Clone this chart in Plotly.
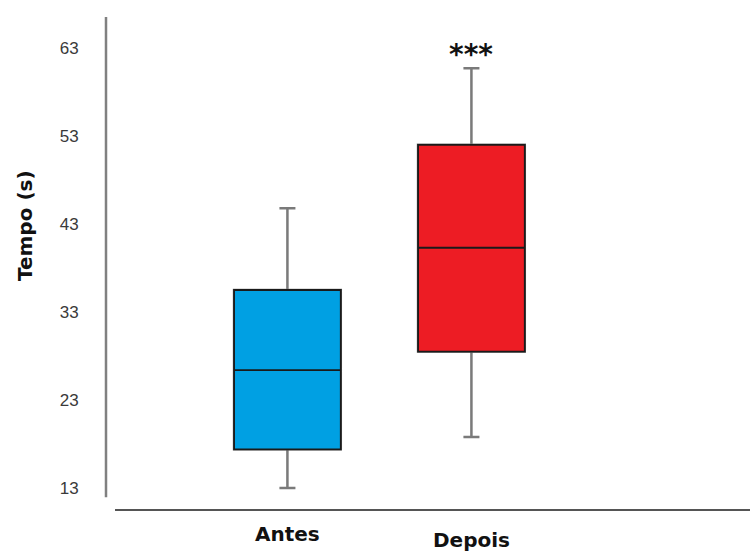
import plotly.graph_objects as go

# Group labels and five-number summaries (seconds)
groups = ["Antes", "Depois"]
colors = ["#00A0E3", "#ED1C24"]
lower_fence = [13.0, 18.8]
q1 = [17.4, 28.5]
median = [26.4, 40.3]
q3 = [35.5, 52.0]
upper_fence = [44.8, 60.7]

y_ticks = [13, 23, 33, 43, 53, 63]
significance = "***"

fig = go.Figure()

for i, g in enumerate(groups):
    # whiskers in grey
    fig.add_trace(go.Box(
        x=[g], q1=[q1[i]], median=[median[i]], q3=[q3[i]],
        lowerfence=[lower_fence[i]], upperfence=[upper_fence[i]],
        fillcolor=colors[i], line=dict(color="#7a7a7a", width=2.5),
        width=0.58, whiskerwidth=0.15, boxpoints=False, hoverinfo="skip",
        showlegend=False,
    ))
    # box body with dark outline on top
    fig.add_trace(go.Box(
        x=[g], q1=[q1[i]], median=[median[i]], q3=[q3[i]],
        lowerfence=[q1[i]], upperfence=[q3[i]],
        fillcolor=colors[i], line=dict(color="#1a1a1a", width=1.8),
        width=0.58, whiskerwidth=0, boxpoints=False,
        showlegend=False,
    ))

# category labels below the baseline
label_shifts = [-24, -30]
for i, g in enumerate(groups):
    fig.add_annotation(
        x=g, y=0, yref="paper", yanchor="middle", yshift=label_shifts[i],
        text=f"<b>{g}</b>", showarrow=False,
        font=dict(family="DejaVu Sans", size=20, color="#111111"),
    )

# y-axis title
fig.add_annotation(
    x=0, xref="paper", xshift=-81, y=0.576, yref="paper",
    xanchor="center", yanchor="middle", textangle=-90,
    text="<b>Tempo (s)</b>", showarrow=False,
    font=dict(family="DejaVu Sans", size=20, color="#111111"),
)

fig.add_annotation(
    x=groups[1], y=upper_fence[1], yanchor="middle", yshift=14,
    text=f"<b>{significance}</b>", showarrow=False,
    font=dict(family="DejaVu Sans", size=28, color="#111111"),
)

# axis lines drawn as separate strokes
fig.add_shape(type="line", xref="paper", yref="paper", x0=0, x1=0, y0=0.026, y1=1,
              line=dict(color="#808080", width=2.5))
fig.add_shape(type="line", xref="paper", yref="paper", x0=0.014, x1=1, y0=0, y1=0,
              line=dict(color="#555555", width=2))

fig.update_layout(
    width=750, height=552,
    margin=dict(l=106, r=0, t=17, b=42),
    paper_bgcolor="white", plot_bgcolor="white",
    boxmode="overlay",
    xaxis=dict(range=[-0.986, 2.514], showticklabels=False, showline=False,
               showgrid=False, zeroline=False, ticks=""),
    yaxis=dict(range=[10.5, 66.52], tickvals=y_ticks, showline=False,
               showgrid=False, zeroline=False, ticks="outside", ticklen=23,
               tickcolor="rgba(0,0,0,0)",
               tickfont=dict(family="Arial", size=17, color="#3a3a3a")),
)

fig.write_html("out.html")
